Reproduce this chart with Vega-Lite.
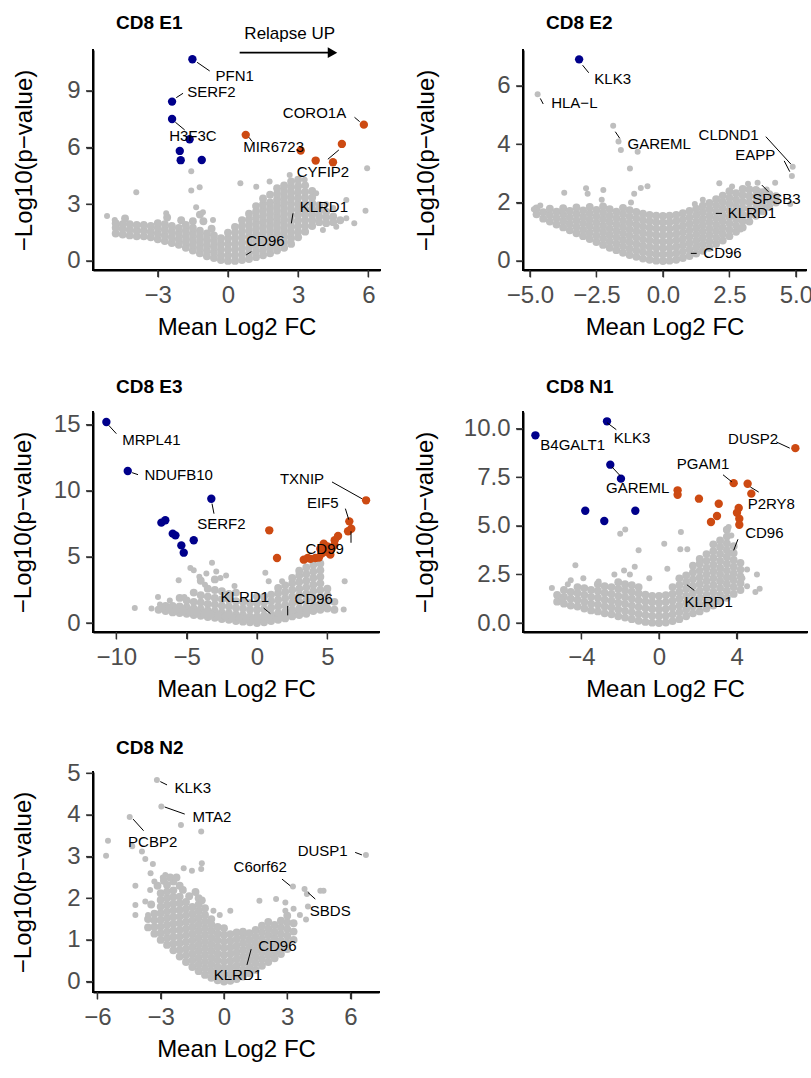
{
"$schema": "https://vega.github.io/schema/vega-lite/v6.json",
"background": "white",
"padding": {"left": 10, "top": 13, "right": 0, "bottom": 5},
"config": {
 "view": {"stroke": null},
 "font": "Liberation Sans",
 "axis": {"grid": false, "domain": true, "domainColor": "#000000", "domainWidth": 2, "ticks": true, "tickColor": "#333333", "tickWidth": 1.3, "tickSize": 7, "labelColor": "#4D4D4D", "labelFont": "Liberation Sans", "labelFontSize": 24, "labelPadding": 6, "labelFlush": false, "labelOverlap": false, "titleFont": "Liberation Sans", "titleFontSize": 24, "titleFontWeight": "normal", "titleColor": "#000000", "titlePadding": 8},
 "title": {"font": "Liberation Sans", "fontSize": 19, "fontWeight": "bold", "anchor": "start", "frame": "group", "dx": 23, "color": "#000000"}
},
"datasets": {
"e1g": [{"x":-4.8,"y":1.45},{"x":-4.8,"y":1.75},{"x":-4.8,"y":2.0},{"x":-4.5,"y":1.4},{"x":-4.5,"y":1.7},{"x":-4.5,"y":1.95},{"x":-4.2,"y":1.35},{"x":-4.2,"y":1.65},{"x":-4.2,"y":1.95},{"x":-3.9,"y":1.3},{"x":-3.9,"y":1.6},{"x":-3.9,"y":1.9},{"x":-3.6,"y":1.3},{"x":-3.6,"y":1.6},{"x":-3.6,"y":1.9},{"x":-3.3,"y":1.25},{"x":-3.3,"y":1.55},{"x":-3.3,"y":1.85},{"x":-3.0,"y":1.15},{"x":-3.0,"y":1.45},{"x":-3.0,"y":1.75},{"x":-3.0,"y":2.0},{"x":-2.7,"y":1.05},{"x":-2.7,"y":1.35},{"x":-2.7,"y":1.65},{"x":-2.7,"y":1.95},{"x":-2.4,"y":0.95},{"x":-2.4,"y":1.25},{"x":-2.4,"y":1.55},{"x":-2.4,"y":1.85},{"x":-2.1,"y":0.85},{"x":-2.1,"y":1.15},{"x":-2.1,"y":1.45},{"x":-2.1,"y":1.75},{"x":-1.8,"y":0.7},{"x":-1.8,"y":1.0},{"x":-1.8,"y":1.3},{"x":-1.8,"y":1.6},{"x":-1.8,"y":1.9},{"x":-1.5,"y":0.55},{"x":-1.5,"y":0.85},{"x":-1.5,"y":1.15},{"x":-1.5,"y":1.45},{"x":-1.5,"y":1.75},{"x":-1.2,"y":0.4},{"x":-1.2,"y":0.7},{"x":-1.2,"y":1.0},{"x":-1.2,"y":1.3},{"x":-1.2,"y":1.6},{"x":-0.9,"y":0.25},{"x":-0.9,"y":0.55},{"x":-0.9,"y":0.85},{"x":-0.9,"y":1.15},{"x":-0.9,"y":1.45},{"x":-0.6,"y":0.15},{"x":-0.6,"y":0.45},{"x":-0.6,"y":0.75},{"x":-0.6,"y":1.05},{"x":-0.6,"y":1.35},{"x":-0.3,"y":0.05},{"x":-0.3,"y":0.3},{"x":-0.3,"y":0.6},{"x":-0.3,"y":0.9},{"x":-0.3,"y":1.2},{"x":0,"y":0},{"x":0,"y":0.3},{"x":0,"y":0.6},{"x":0,"y":0.9},{"x":0,"y":1.2},{"x":0,"y":1.5},
{"x":-4.4,"y":2.25},{"x":-2.6,"y":2.3},{"x":-2.0,"y":2.15},{"x":-1.5,"y":2.1},{"x":-1.2,"y":2.45},{"x":-1.05,"y":2.1},{"x":-0.7,"y":1.7},
{"x":0.3,"y":0},{"x":0.3,"y":0.3},{"x":0.3,"y":0.6},{"x":0.3,"y":0.9},{"x":0.3,"y":1.2},{"x":0.3,"y":1.5},{"x":0.3,"y":1.8},
{"x":0.6,"y":0.05},{"x":0.6,"y":0.35},{"x":0.6,"y":0.65},{"x":0.6,"y":0.95},{"x":0.6,"y":1.25},{"x":0.6,"y":1.55},{"x":0.6,"y":1.85},{"x":0.6,"y":2.15},
{"x":0.9,"y":0.1},{"x":0.9,"y":0.4},{"x":0.9,"y":0.7},{"x":0.9,"y":1.0},{"x":0.9,"y":1.3},{"x":0.9,"y":1.6},{"x":0.9,"y":1.9},{"x":0.9,"y":2.2},{"x":0.9,"y":2.5},
{"x":1.2,"y":0.2},{"x":1.2,"y":0.5},{"x":1.2,"y":0.8},{"x":1.2,"y":1.1},{"x":1.2,"y":1.4},{"x":1.2,"y":1.7},{"x":1.2,"y":2.0},{"x":1.2,"y":2.3},{"x":1.2,"y":2.6},{"x":1.2,"y":2.9},
{"x":1.5,"y":0.3},{"x":1.5,"y":0.6},{"x":1.5,"y":0.9},{"x":1.5,"y":1.2},{"x":1.5,"y":1.5},{"x":1.5,"y":1.8},{"x":1.5,"y":2.1},{"x":1.5,"y":2.4},{"x":1.5,"y":2.7},{"x":1.5,"y":3.0},{"x":1.5,"y":3.3},
{"x":1.8,"y":0.4},{"x":1.8,"y":0.7},{"x":1.8,"y":1.0},{"x":1.8,"y":1.3},{"x":1.8,"y":1.6},{"x":1.8,"y":1.9},{"x":1.8,"y":2.2},{"x":1.8,"y":2.5},{"x":1.8,"y":2.8},{"x":1.8,"y":3.1},{"x":1.8,"y":3.5},
{"x":2.1,"y":0.55},{"x":2.1,"y":0.85},{"x":2.1,"y":1.15},{"x":2.1,"y":1.45},{"x":2.1,"y":1.75},{"x":2.1,"y":2.05},{"x":2.1,"y":2.35},{"x":2.1,"y":2.65},{"x":2.1,"y":2.95},{"x":2.1,"y":3.25},{"x":2.1,"y":3.55},{"x":2.1,"y":3.85},
{"x":2.4,"y":0.7},{"x":2.4,"y":1.0},{"x":2.4,"y":1.3},{"x":2.4,"y":1.6},{"x":2.4,"y":1.9},{"x":2.4,"y":2.2},{"x":2.4,"y":2.5},{"x":2.4,"y":2.8},{"x":2.4,"y":3.1},{"x":2.4,"y":3.4},{"x":2.4,"y":3.7},{"x":2.4,"y":4.0},
{"x":2.7,"y":0.9},{"x":2.7,"y":1.2},{"x":2.7,"y":1.5},{"x":2.7,"y":1.8},{"x":2.7,"y":2.1},{"x":2.7,"y":2.4},{"x":2.7,"y":2.7},{"x":2.7,"y":3.0},{"x":2.7,"y":3.3},{"x":2.7,"y":3.6},{"x":2.7,"y":3.9},{"x":2.7,"y":4.2},
{"x":3.0,"y":1.25},{"x":3.0,"y":1.55},{"x":3.0,"y":1.85},{"x":3.0,"y":2.15},{"x":3.0,"y":2.45},{"x":3.0,"y":2.75},{"x":3.0,"y":3.05},{"x":3.0,"y":3.35},{"x":3.0,"y":3.65},{"x":3.0,"y":3.95},{"x":3.0,"y":4.3},
{"x":3.3,"y":1.55},{"x":3.3,"y":1.85},{"x":3.3,"y":2.15},{"x":3.3,"y":2.45},{"x":3.3,"y":2.75},{"x":3.3,"y":3.05},{"x":3.3,"y":3.35},{"x":3.3,"y":3.65},{"x":3.3,"y":4.0},
{"x":3.6,"y":1.85},{"x":3.6,"y":2.15},{"x":3.6,"y":2.45},{"x":3.6,"y":2.75},{"x":3.6,"y":3.05},{"x":3.6,"y":3.35},{"x":3.6,"y":3.7},
{"x":3.9,"y":2.05},{"x":3.9,"y":2.35},{"x":3.9,"y":2.65},{"x":3.9,"y":2.95},{"x":4.2,"y":2.0},{"x":4.2,"y":2.3},{"x":4.2,"y":2.6},{"x":4.5,"y":2.05},{"x":4.5,"y":2.35},{"x":4.8,"y":2.15}],
"e1o": [{"x":-5.17,"y":2.38},{"x":-4.84,"y":2.17},{"x":-3.92,"y":3.63},{"x":-2.64,"y":2.52},{"x":-1.57,"y":4.75},{"x":-1.57,"y":3.72},{"x":-1.21,"y":3.9},{"x":-1.36,"y":2.84},{"x":-1.07,"y":2.58},{"x":-0.64,"y":2.17},{"x":0.53,"y":4.11},{"x":1.21,"y":3.93},{"x":1.78,"y":4.2},{"x":2.64,"y":4.55},{"x":3.28,"y":4.29},{"x":5.95,"y":4.9},{"x":5.88,"y":2.66},{"x":5.06,"y":2.26},{"x":5.06,"y":3.23},{"x":3.77,"y":3.58},{"x":4.06,"y":1.64},{"x":4.63,"y":1.81},{"x":4.2,"y":3.0},{"x":4.5,"y":2.8},{"x":5.4,"y":2.0}],
"e1h": [{"x":-1.52,"y":10.67,"g":"down"},{"x":-2.39,"y":8.43,"g":"down"},{"x":-2.39,"y":7.51,"g":"down"},{"x":-1.64,"y":6.44,"g":"down"},{"x":-2.06,"y":5.82,"g":"down"},{"x":-2.02,"y":5.33,"g":"down"},{"x":-1.12,"y":5.34,"g":"down"},{"x":0.76,"y":6.67,"g":"up"},{"x":3.11,"y":5.84,"g":"up"},{"x":3.75,"y":5.31,"g":"up"},{"x":4.49,"y":5.22,"g":"up"},{"x":4.87,"y":6.19,"g":"up"},{"x":5.81,"y":7.21,"g":"up"}],
"e1s": [{"x":-1.32,"y":10.51,"x2":-0.78,"y2":10.05},{"x":-2.21,"y":8.64,"x2":-1.92,"y2":8.87},{"x":-2.25,"y":7.34,"x2":-1.85,"y2":6.93},{"x":0.9,"y":6.54,"x2":1.04,"y2":6.31},{"x":5.41,"y":7.6,"x2":5.63,"y2":7.37},{"x":4.27,"y":5.38,"x2":4.74,"y2":5.87},{"x":2.71,"y":1.99,"x2":2.78,"y2":2.52},{"x":0.78,"y":0.32,"x2":1.0,"y2":0.49}],
"e1t": [{"x":0.29,"y":9.79,"t":"PFN1"},{"x":-0.71,"y":8.96,"t":"SERF2"},{"x":-1.5,"y":6.61,"t":"H3F3C"},{"x":1.95,"y":6.01,"t":"MIR6723"},{"x":3.7,"y":7.81,"t":"CORO1A"},{"x":4.06,"y":4.69,"t":"CYFIP2"},{"x":4.1,"y":2.87,"t":"KLRD1"},{"x":1.6,"y":1.07,"t":"CD96"}],
"e1a": [{"x":-5.77,"y":-0.48,"x2":6.5,"y2":-0.48},{"x":-5.77,"y":-0.48,"x2":-5.77,"y2":11.16}],
"e1k": [{"x":-3,"y":-0.48,"x2":-3,"y2":-0.85},{"x":0,"y":-0.48,"x2":0,"y2":-0.85},{"x":3,"y":-0.48,"x2":3,"y2":-0.85},{"x":6,"y":-0.48,"x2":6,"y2":-0.85},{"x":-5.77,"y":0,"x2":-6.07,"y2":0},{"x":-5.77,"y":3,"x2":-6.07,"y2":3},{"x":-5.77,"y":6,"x2":-6.07,"y2":6},{"x":-5.77,"y":9,"x2":-6.07,"y2":9}],
"e2g": [{"x":-4.75,"y":1.6},{"x":-4.75,"y":1.8},{"x":-4.5,"y":1.45},{"x":-4.5,"y":1.67},{"x":-4.25,"y":1.35},{"x":-4.25,"y":1.57},{"x":-4.25,"y":1.79},{"x":-4.0,"y":1.25},{"x":-4.0,"y":1.47},{"x":-4.0,"y":1.69},{"x":-3.75,"y":1.15},{"x":-3.75,"y":1.37},{"x":-3.75,"y":1.59},{"x":-3.75,"y":1.81},{"x":-3.5,"y":1.05},{"x":-3.5,"y":1.27},{"x":-3.5,"y":1.49},{"x":-3.5,"y":1.71},{"x":-3.25,"y":0.95},{"x":-3.25,"y":1.17},{"x":-3.25,"y":1.39},{"x":-3.25,"y":1.61},{"x":-3.25,"y":1.83},{"x":-3.0,"y":0.85},{"x":-3.0,"y":1.07},{"x":-3.0,"y":1.29},{"x":-3.0,"y":1.51},{"x":-3.0,"y":1.73},{"x":-2.75,"y":0.75},{"x":-2.75,"y":0.97},{"x":-2.75,"y":1.19},{"x":-2.75,"y":1.41},{"x":-2.75,"y":1.63},{"x":-2.75,"y":1.85},{"x":-2.5,"y":0.65},{"x":-2.5,"y":0.87},{"x":-2.5,"y":1.09},{"x":-2.5,"y":1.31},{"x":-2.5,"y":1.53},{"x":-2.5,"y":1.75},{"x":-2.25,"y":0.55},{"x":-2.25,"y":0.77},{"x":-2.25,"y":0.99},{"x":-2.25,"y":1.21},{"x":-2.25,"y":1.43},{"x":-2.25,"y":1.65},{"x":-2.25,"y":1.87},{"x":-2.0,"y":0.45},{"x":-2.0,"y":0.67},{"x":-2.0,"y":0.89},{"x":-2.0,"y":1.11},{"x":-2.0,"y":1.33},{"x":-2.0,"y":1.55},{"x":-2.0,"y":1.77},{"x":-1.75,"y":0.37},{"x":-1.75,"y":0.59},{"x":-1.75,"y":0.81},{"x":-1.75,"y":1.03},{"x":-1.75,"y":1.25},{"x":-1.75,"y":1.47},{"x":-1.75,"y":1.69},{"x":-1.5,"y":0.28},{"x":-1.5,"y":0.5},{"x":-1.5,"y":0.72},{"x":-1.5,"y":0.94},{"x":-1.5,"y":1.16},{"x":-1.5,"y":1.38},{"x":-1.5,"y":1.6},{"x":-1.5,"y":1.82},{"x":-1.25,"y":0.2},{"x":-1.25,"y":0.42},{"x":-1.25,"y":0.64},{"x":-1.25,"y":0.86},{"x":-1.25,"y":1.08},{"x":-1.25,"y":1.3},{"x":-1.25,"y":1.52},{"x":-1.25,"y":1.74},{"x":-1.0,"y":0.14},{"x":-1.0,"y":0.36},{"x":-1.0,"y":0.58},{"x":-1.0,"y":0.8},{"x":-1.0,"y":1.02},{"x":-1.0,"y":1.24},{"x":-1.0,"y":1.46},{"x":-1.0,"y":1.68},{"x":-0.75,"y":0.08},{"x":-0.75,"y":0.3},{"x":-0.75,"y":0.52},{"x":-0.75,"y":0.74},{"x":-0.75,"y":0.96},{"x":-0.75,"y":1.18},{"x":-0.75,"y":1.4},{"x":-0.75,"y":1.62},{"x":-0.5,"y":0.04},{"x":-0.5,"y":0.26},{"x":-0.5,"y":0.48},{"x":-0.5,"y":0.7},{"x":-0.5,"y":0.92},{"x":-0.5,"y":1.14},{"x":-0.5,"y":1.36},{"x":-0.5,"y":1.58},{"x":-0.25,"y":0.01},{"x":-0.25,"y":0.23},{"x":-0.25,"y":0.45},{"x":-0.25,"y":0.67},{"x":-0.25,"y":0.89},{"x":-0.25,"y":1.11},{"x":-0.25,"y":1.33},{"x":-0.25,"y":1.55},{"x":0,"y":0},{"x":0,"y":0.22},{"x":0,"y":0.44},{"x":0,"y":0.66},{"x":0,"y":0.88},{"x":0,"y":1.1},{"x":0,"y":1.32},{"x":0,"y":1.54},
{"x":0.25,"y":0.01},{"x":0.25,"y":0.23},{"x":0.25,"y":0.45},{"x":0.25,"y":0.67},{"x":0.25,"y":0.89},{"x":0.25,"y":1.11},{"x":0.25,"y":1.33},{"x":0.25,"y":1.55},{"x":0.5,"y":0.04},{"x":0.5,"y":0.26},{"x":0.5,"y":0.48},{"x":0.5,"y":0.7},{"x":0.5,"y":0.92},{"x":0.5,"y":1.14},{"x":0.5,"y":1.36},{"x":0.5,"y":1.58},{"x":0.75,"y":0.1},{"x":0.75,"y":0.32},{"x":0.75,"y":0.54},{"x":0.75,"y":0.76},{"x":0.75,"y":0.98},{"x":0.75,"y":1.2},{"x":0.75,"y":1.42},{"x":0.75,"y":1.64},{"x":1.0,"y":0.17},{"x":1.0,"y":0.39},{"x":1.0,"y":0.61},{"x":1.0,"y":0.83},{"x":1.0,"y":1.05},{"x":1.0,"y":1.27},{"x":1.0,"y":1.49},{"x":1.0,"y":1.71},{"x":1.25,"y":0.25},{"x":1.25,"y":0.47},{"x":1.25,"y":0.69},{"x":1.25,"y":0.91},{"x":1.25,"y":1.13},{"x":1.25,"y":1.35},{"x":1.25,"y":1.57},{"x":1.25,"y":1.79},{"x":1.5,"y":0.35},{"x":1.5,"y":0.57},{"x":1.5,"y":0.79},{"x":1.5,"y":1.01},{"x":1.5,"y":1.23},{"x":1.5,"y":1.45},{"x":1.5,"y":1.67},{"x":1.5,"y":1.89},{"x":1.75,"y":0.45},{"x":1.75,"y":0.67},{"x":1.75,"y":0.89},{"x":1.75,"y":1.11},{"x":1.75,"y":1.33},{"x":1.75,"y":1.55},{"x":1.75,"y":1.77},{"x":1.75,"y":1.99},{"x":2.0,"y":0.58},{"x":2.0,"y":0.8},{"x":2.0,"y":1.02},{"x":2.0,"y":1.24},{"x":2.0,"y":1.46},{"x":2.0,"y":1.68},{"x":2.0,"y":1.9},{"x":2.0,"y":2.12},{"x":2.25,"y":0.7},{"x":2.25,"y":0.92},{"x":2.25,"y":1.14},{"x":2.25,"y":1.36},{"x":2.25,"y":1.58},{"x":2.25,"y":1.8},{"x":2.25,"y":2.02},{"x":2.25,"y":2.24},{"x":2.5,"y":0.85},{"x":2.5,"y":1.07},{"x":2.5,"y":1.29},{"x":2.5,"y":1.51},{"x":2.5,"y":1.73},{"x":2.5,"y":1.95},{"x":2.5,"y":2.17},{"x":2.5,"y":2.39},{"x":2.75,"y":1.0},{"x":2.75,"y":1.22},{"x":2.75,"y":1.44},{"x":2.75,"y":1.66},{"x":2.75,"y":1.88},{"x":2.75,"y":2.1},{"x":2.75,"y":2.32},{"x":3.0,"y":1.15},{"x":3.0,"y":1.37},{"x":3.0,"y":1.59},{"x":3.0,"y":1.81},{"x":3.0,"y":2.03},{"x":3.0,"y":2.25},{"x":3.0,"y":2.47},{"x":3.25,"y":1.35},{"x":3.25,"y":1.57},{"x":3.25,"y":1.79},{"x":3.25,"y":2.01},{"x":3.25,"y":2.23},{"x":3.25,"y":2.45},{"x":3.5,"y":1.55},{"x":3.5,"y":1.77},{"x":3.5,"y":1.99},{"x":3.5,"y":2.21},{"x":3.5,"y":2.43},{"x":3.75,"y":1.7},{"x":3.75,"y":1.92},{"x":3.75,"y":2.14},{"x":3.75,"y":2.36},{"x":4.0,"y":1.85},{"x":4.0,"y":2.07},{"x":4.0,"y":2.29},{"x":4.25,"y":2.0},{"x":4.25,"y":2.22}],
"e2o": [{"x":-4.71,"y":5.71},{"x":-1.87,"y":4.63},{"x":-1.67,"y":4.09},{"x":-1.58,"y":3.8},{"x":-0.95,"y":3.74},{"x":-1.24,"y":3.17},{"x":4.88,"y":3.23},{"x":4.85,"y":2.91},{"x":3.56,"y":2.68},{"x":4.22,"y":2.68},{"x":4.79,"y":1.95},{"x":2.12,"y":2.66},{"x":3.2,"y":2.65},{"x":2.93,"y":1.08},{"x":-3.71,"y":2.34},{"x":-2.89,"y":2.49},{"x":-2.24,"y":2.43},{"x":-2.83,"y":2.3},{"x":-1.08,"y":2.3},{"x":-0.83,"y":2.5},{"x":-0.58,"y":2.56},{"x":-4.85,"y":1.77},{"x":-4.61,"y":1.9},{"x":-3.77,"y":1.69},{"x":-2.3,"y":2.1},{"x":-1.2,"y":2.0},{"x":3.6,"y":2.4},{"x":3.9,"y":2.45},{"x":1.5,"y":2.1},{"x":1.2,"y":1.95},{"x":2.6,"y":2.55}],
"e2h": [{"x":-3.15,"y":6.91,"g":"down"}],
"e2s": [{"x":-3.02,"y":6.71,"x2":-2.79,"y2":6.45},{"x":-4.61,"y":5.57,"x2":-4.5,"y2":5.38},{"x":-1.79,"y":4.43,"x2":-1.62,"y2":4.2},{"x":3.87,"y":4.26,"x2":4.81,"y2":3.32},{"x":4.56,"y":3.43,"x2":4.77,"y2":3.06},{"x":3.72,"y":2.6,"x2":3.97,"y2":2.37},{"x":1.99,"y":1.63,"x2":2.22,"y2":1.63},{"x":1.05,"y":0.26,"x2":1.27,"y2":0.26}],
"e2t": [{"x":-1.89,"y":6.22,"t":"KLK3"},{"x":-3.33,"y":5.4,"t":"HLA−L"},{"x":-0.14,"y":4.01,"t":"GAREML"},{"x":2.47,"y":4.32,"t":"CLDND1"},{"x":3.47,"y":3.63,"t":"EAPP"},{"x":4.27,"y":2.11,"t":"SPSB3"},{"x":3.35,"y":1.63,"t":"KLRD1"},{"x":2.24,"y":0.26,"t":"CD96"}],
"e2a": [{"x":-5.26,"y":-0.31,"x2":5.38,"y2":-0.31},{"x":-5.26,"y":-0.31,"x2":-5.26,"y2":7.23}],
"e2k": [{"x":-5,"y":-0.31,"x2":-5,"y2":-0.55},{"x":-2.5,"y":-0.31,"x2":-2.5,"y2":-0.55},{"x":0,"y":-0.31,"x2":0,"y2":-0.55},{"x":2.5,"y":-0.31,"x2":2.5,"y2":-0.55},{"x":5,"y":-0.31,"x2":5,"y2":-0.55},{"x":-5.26,"y":0,"x2":-5.52,"y2":0},{"x":-5.26,"y":2,"x2":-5.52,"y2":2},{"x":-5.26,"y":4,"x2":-5.52,"y2":4},{"x":-5.26,"y":6,"x2":-5.52,"y2":6}],
"e3g": [{"x":-7,"y":1.0},{"x":-6.5,"y":0.9},{"x":-6.5,"y":1.3},{"x":-6,"y":0.8},{"x":-6,"y":1.3},{"x":-5.5,"y":0.75},{"x":-5.5,"y":1.25},{"x":-5.5,"y":1.9},{"x":-5,"y":0.7},{"x":-5,"y":1.2},{"x":-5,"y":1.7},{"x":-4.5,"y":0.6},{"x":-4.5,"y":1.1},{"x":-4.5,"y":1.6},{"x":-4.5,"y":2.3},{"x":-4,"y":0.55},{"x":-4,"y":1.05},{"x":-4,"y":1.55},{"x":-4,"y":2.1},{"x":-4,"y":3.2},{"x":-3.5,"y":0.45},{"x":-3.5,"y":0.95},{"x":-3.5,"y":1.45},{"x":-3.5,"y":2.0},{"x":-3.5,"y":2.6},{"x":-3,"y":0.4},{"x":-3,"y":0.9},{"x":-3,"y":1.4},{"x":-3,"y":1.9},{"x":-3,"y":2.5},{"x":-3,"y":3.3},{"x":-2.5,"y":0.3},{"x":-2.5,"y":0.8},{"x":-2.5,"y":1.3},{"x":-2.5,"y":1.8},{"x":-2.5,"y":2.4},{"x":-2,"y":0.25},{"x":-2,"y":0.75},{"x":-2,"y":1.25},{"x":-2,"y":1.75},{"x":-2,"y":2.2},{"x":-1.5,"y":0.15},{"x":-1.5,"y":0.65},{"x":-1.5,"y":1.15},{"x":-1.5,"y":1.65},{"x":-1.5,"y":2.3},{"x":-1,"y":0.1},{"x":-1,"y":0.6},{"x":-1,"y":1.1},{"x":-1,"y":1.6},{"x":-0.5,"y":0.05},{"x":-0.5,"y":0.5},{"x":-0.5,"y":1.0},{"x":-0.5,"y":1.5},{"x":0,"y":0},{"x":0,"y":0.5},{"x":0,"y":1.0},{"x":0,"y":1.5},{"x":0,"y":2.0},
{"x":-6.75,"y":1.15},{"x":-6.25,"y":1.05},{"x":-5.75,"y":1.0},{"x":-5.25,"y":0.95},{"x":-4.75,"y":0.85},{"x":-4.25,"y":0.8},{"x":-3.75,"y":0.7},{"x":-3.25,"y":0.65},{"x":-2.75,"y":0.55},{"x":-2.25,"y":0.5},{"x":-1.75,"y":0.4},{"x":-1.25,"y":0.35},{"x":-0.75,"y":0.3},{"x":-0.25,"y":0.25},{"x":0.25,"y":0.3},{"x":0.75,"y":0.4},{"x":1.25,"y":0.5},{"x":1.75,"y":0.55},{"x":2.25,"y":0.7},{"x":2.75,"y":0.8},{"x":3.25,"y":0.9},{"x":3.75,"y":1.0},{"x":4.25,"y":1.2},{"x":4.75,"y":1.3},
{"x":0.5,"y":0.05},{"x":0.5,"y":0.55},{"x":0.5,"y":1.05},{"x":0.5,"y":1.55},{"x":0.5,"y":2.0},{"x":1,"y":0.15},{"x":1,"y":0.65},{"x":1,"y":1.15},{"x":1,"y":1.65},{"x":1,"y":2.15},{"x":1.5,"y":0.25},{"x":1.5,"y":0.75},{"x":1.5,"y":1.25},{"x":1.5,"y":1.75},{"x":1.5,"y":2.25},{"x":1.5,"y":2.65},{"x":2,"y":0.35},{"x":2,"y":0.85},{"x":2,"y":1.35},{"x":2,"y":1.85},{"x":2,"y":2.35},{"x":2,"y":2.85},{"x":2.5,"y":0.5},{"x":2.5,"y":1.0},{"x":2.5,"y":1.5},{"x":2.5,"y":2.0},{"x":2.5,"y":2.5},{"x":2.5,"y":3.0},{"x":2.5,"y":3.4},{"x":3,"y":0.6},{"x":3,"y":1.1},{"x":3,"y":1.6},{"x":3,"y":2.1},{"x":3,"y":2.6},{"x":3,"y":3.1},{"x":3,"y":3.6},{"x":3,"y":3.95},{"x":3.5,"y":0.7},{"x":3.5,"y":1.2},{"x":3.5,"y":1.7},{"x":3.5,"y":2.2},{"x":3.5,"y":2.7},{"x":3.5,"y":3.2},{"x":3.5,"y":3.7},{"x":3.5,"y":4.2},{"x":4,"y":0.9},{"x":4,"y":1.4},{"x":4,"y":1.9},{"x":4,"y":2.4},{"x":4,"y":2.9},{"x":4,"y":3.4},{"x":4,"y":3.9},{"x":4,"y":4.4},{"x":4.5,"y":1.0},{"x":4.5,"y":1.5},{"x":4.5,"y":2.0},{"x":4.5,"y":2.5},{"x":4.5,"y":3.0},{"x":4.5,"y":3.5},{"x":4.5,"y":4.0},{"x":4.5,"y":4.5},{"x":5,"y":1.1},{"x":5,"y":1.6},{"x":5,"y":2.1},{"x":5,"y":2.6},{"x":5.5,"y":1.0},{"x":5.5,"y":1.6}],
"e3o": [{"x":-8.69,"y":1.13},{"x":-7.04,"y":1.97},{"x":-5.57,"y":3.23},{"x":-5.17,"y":1.97},{"x":-4.74,"y":4.16},{"x":-4.5,"y":4.0},{"x":-3.2,"y":4.56},{"x":-4.1,"y":3.5},{"x":-3.6,"y":3.75},{"x":-2.6,"y":3.4},{"x":-2.2,"y":3.6},{"x":0.59,"y":3.81},{"x":0.83,"y":3.15},{"x":1.78,"y":3.15},{"x":6.23,"y":3.15},{"x":6.16,"y":1.03},{"x":5.52,"y":1.03},{"x":-7.5,"y":1.1},{"x":-6.9,"y":1.4},{"x":-2.9,"y":3.9},{"x":-1.6,"y":2.8},{"x":-3.7,"y":2.9},{"x":-6.2,"y":1.7}],
"e3h": [{"x":-10.71,"y":15.2,"g":"down"},{"x":-9.19,"y":11.5,"g":"down"},{"x":-3.25,"y":9.4,"g":"down"},{"x":-6.8,"y":7.59,"g":"down"},{"x":-6.52,"y":7.77,"g":"down"},{"x":-5.99,"y":6.76,"g":"down"},{"x":-5.8,"y":6.63,"g":"down"},{"x":-5.38,"y":5.87,"g":"down"},{"x":-5.21,"y":5.32,"g":"down"},{"x":-4.5,"y":6.26,"g":"down"},{"x":7.75,"y":9.28,"g":"up"},{"x":6.56,"y":7.69,"g":"up"},{"x":6.7,"y":7.13,"g":"up"},{"x":6.47,"y":6.94,"g":"up"},{"x":0.87,"y":7.01,"g":"up"},{"x":1.42,"y":4.92,"g":"up"},{"x":3.32,"y":4.79,"g":"up"},{"x":3.6,"y":4.92,"g":"up"},{"x":4.15,"y":4.92,"g":"up"},{"x":4.74,"y":6.0,"g":"up"},{"x":5.52,"y":6.26,"g":"up"},{"x":5.76,"y":6.58,"g":"up"},{"x":5.21,"y":5.17,"g":"up"},{"x":4.5,"y":5.62,"g":"up"},{"x":4.98,"y":5.37,"g":"up"},{"x":3.8,"y":4.85,"g":"up"},{"x":4.4,"y":4.95,"g":"up"},{"x":4.6,"y":5.25,"g":"up"},{"x":5.0,"y":5.8,"g":"up"},{"x":5.3,"y":5.6,"g":"up"},{"x":5.5,"y":5.9,"g":"up"}],
"e3s": [{"x":-10.54,"y":14.95,"x2":-10.0,"y2":14.32},{"x":-8.88,"y":11.37,"x2":-8.46,"y2":11.22},{"x":-3.2,"y":9.03,"x2":-3.06,"y2":8.27},{"x":5.33,"y":10.67,"x2":7.46,"y2":9.4},{"x":6.28,"y":8.65,"x2":6.52,"y2":7.82},{"x":6.68,"y":6.94,"x2":6.68,"y2":6.07},{"x":0.47,"y":1.13,"x2":0.95,"y2":0.71},{"x":2.18,"y":1.29,"x2":2.18,"y2":0.58}],
"e3t": [{"x":-7.51,"y":13.82,"t":"MRPL41"},{"x":-5.57,"y":11.22,"t":"NDUFB10"},{"x":-2.53,"y":7.51,"t":"SERF2"},{"x":3.2,"y":10.92,"t":"TXNIP"},{"x":4.67,"y":9.1,"t":"EIF5"},{"x":4.81,"y":5.57,"t":"CD99"},{"x":-0.87,"y":1.97,"t":"KLRD1"},{"x":4.03,"y":1.84,"t":"CD96"}],
"e3a": [{"x":-11.66,"y":-0.68,"x2":8.67,"y2":-0.68},{"x":-11.66,"y":-0.68,"x2":-11.66,"y2":15.96}],
"e3k": [{"x":-10,"y":-0.68,"x2":-10,"y2":-1.21},{"x":-5,"y":-0.68,"x2":-5,"y2":-1.21},{"x":0,"y":-0.68,"x2":0,"y2":-1.21},{"x":5,"y":-0.68,"x2":5,"y2":-1.21},{"x":-11.66,"y":0,"x2":-12.16,"y2":0},{"x":-11.66,"y":5,"x2":-12.16,"y2":5},{"x":-11.66,"y":10,"x2":-12.16,"y2":10},{"x":-11.66,"y":15,"x2":-12.16,"y2":15}],
"n1g": [{"x":-5.25,"y":1.1},{"x":-5.25,"y":1.45},{"x":-4.9,"y":1.0},{"x":-4.9,"y":1.35},{"x":-4.9,"y":1.7},{"x":-4.55,"y":0.9},{"x":-4.55,"y":1.25},{"x":-4.55,"y":1.6},{"x":-4.2,"y":0.85},{"x":-4.2,"y":1.2},{"x":-4.2,"y":1.55},{"x":-4.2,"y":1.85},{"x":-3.85,"y":0.75},{"x":-3.85,"y":1.1},{"x":-3.85,"y":1.45},{"x":-3.85,"y":1.8},{"x":-3.5,"y":0.65},{"x":-3.5,"y":1.0},{"x":-3.5,"y":1.35},{"x":-3.5,"y":1.7},{"x":-3.15,"y":0.6},{"x":-3.15,"y":0.95},{"x":-3.15,"y":1.3},{"x":-3.15,"y":1.65},{"x":-3.15,"y":2.0},{"x":-2.8,"y":0.5},{"x":-2.8,"y":0.85},{"x":-2.8,"y":1.2},{"x":-2.8,"y":1.55},{"x":-2.8,"y":1.9},{"x":-2.45,"y":0.45},{"x":-2.45,"y":0.8},{"x":-2.45,"y":1.15},{"x":-2.45,"y":1.5},{"x":-2.45,"y":1.85},{"x":-2.1,"y":0.35},{"x":-2.1,"y":0.7},{"x":-2.1,"y":1.05},{"x":-2.1,"y":1.4},{"x":-2.1,"y":1.75},{"x":-2.1,"y":2.1},{"x":-1.75,"y":0.28},{"x":-1.75,"y":0.63},{"x":-1.75,"y":0.98},{"x":-1.75,"y":1.33},{"x":-1.75,"y":1.68},{"x":-1.75,"y":2.0},{"x":-1.4,"y":0.2},{"x":-1.4,"y":0.55},{"x":-1.4,"y":0.9},{"x":-1.4,"y":1.25},{"x":-1.4,"y":1.6},{"x":-1.4,"y":1.95},{"x":-1.05,"y":0.12},{"x":-1.05,"y":0.47},{"x":-1.05,"y":0.82},{"x":-1.05,"y":1.17},{"x":-1.05,"y":1.52},{"x":-1.05,"y":1.85},{"x":-0.7,"y":0.06},{"x":-0.7,"y":0.41},{"x":-0.7,"y":0.76},{"x":-0.7,"y":1.11},{"x":-0.7,"y":1.46},{"x":-0.35,"y":0.02},{"x":-0.35,"y":0.37},{"x":-0.35,"y":0.72},{"x":-0.35,"y":1.07},{"x":-0.35,"y":1.4},{"x":0,"y":0},{"x":0,"y":0.35},{"x":0,"y":0.7},{"x":0,"y":1.05},{"x":0,"y":1.4},
{"x":0.35,"y":0.03},{"x":0.35,"y":0.38},{"x":0.35,"y":0.73},{"x":0.35,"y":1.08},{"x":0.35,"y":1.43},{"x":0.7,"y":0.1},{"x":0.7,"y":0.45},{"x":0.7,"y":0.8},{"x":0.7,"y":1.15},{"x":0.7,"y":1.5},{"x":0.7,"y":1.85},{"x":1.05,"y":0.2},{"x":1.05,"y":0.55},{"x":1.05,"y":0.9},{"x":1.05,"y":1.25},{"x":1.05,"y":1.6},{"x":1.05,"y":1.95},{"x":1.05,"y":2.3},{"x":1.4,"y":0.35},{"x":1.4,"y":0.7},{"x":1.4,"y":1.05},{"x":1.4,"y":1.4},{"x":1.4,"y":1.75},{"x":1.4,"y":2.1},{"x":1.4,"y":2.45},{"x":1.75,"y":0.5},{"x":1.75,"y":0.85},{"x":1.75,"y":1.2},{"x":1.75,"y":1.55},{"x":1.75,"y":1.9},{"x":1.75,"y":2.25},{"x":1.75,"y":2.6},{"x":1.75,"y":2.95},{"x":2.1,"y":0.6},{"x":2.1,"y":0.95},{"x":2.1,"y":1.3},{"x":2.1,"y":1.65},{"x":2.1,"y":2.0},{"x":2.1,"y":2.35},{"x":2.1,"y":2.7},{"x":2.1,"y":3.05},{"x":2.1,"y":3.3},{"x":2.45,"y":0.75},{"x":2.45,"y":1.1},{"x":2.45,"y":1.45},{"x":2.45,"y":1.8},{"x":2.45,"y":2.15},{"x":2.45,"y":2.5},{"x":2.45,"y":2.85},{"x":2.45,"y":3.2},{"x":2.45,"y":3.55},{"x":2.8,"y":0.9},{"x":2.8,"y":1.25},{"x":2.8,"y":1.6},{"x":2.8,"y":1.95},{"x":2.8,"y":2.3},{"x":2.8,"y":2.65},{"x":2.8,"y":3.0},{"x":2.8,"y":3.35},{"x":2.8,"y":3.7},{"x":2.8,"y":4.05},{"x":3.15,"y":1.1},{"x":3.15,"y":1.45},{"x":3.15,"y":1.8},{"x":3.15,"y":2.15},{"x":3.15,"y":2.5},{"x":3.15,"y":2.85},{"x":3.15,"y":3.2},{"x":3.15,"y":3.55},{"x":3.15,"y":3.9},{"x":3.15,"y":4.25},{"x":3.5,"y":1.3},{"x":3.5,"y":1.65},{"x":3.5,"y":2.0},{"x":3.5,"y":2.35},{"x":3.5,"y":2.7},{"x":3.5,"y":3.05},{"x":3.5,"y":3.4},{"x":3.5,"y":3.75},{"x":3.5,"y":4.1},{"x":3.5,"y":4.45},{"x":3.5,"y":4.8},{"x":3.85,"y":1.5},{"x":3.85,"y":1.85},{"x":3.85,"y":2.2},{"x":3.85,"y":2.55},{"x":3.85,"y":2.9},{"x":3.85,"y":3.25},{"x":3.85,"y":3.6},{"x":3.85,"y":3.95},{"x":4.2,"y":1.7},{"x":4.2,"y":2.05},{"x":4.2,"y":2.4},{"x":4.2,"y":2.75},{"x":4.2,"y":3.1}],
"n1o": [{"x":-1.74,"y":4.82},{"x":-2.0,"y":4.6},{"x":1.13,"y":4.68},{"x":0.27,"y":4.08},{"x":-1.05,"y":3.74},{"x":1.1,"y":3.8},{"x":1.46,"y":3.8},{"x":3.59,"y":4.94},{"x":3.46,"y":4.8},{"x":3.73,"y":4.5},{"x":-4.31,"y":2.97},{"x":-5.52,"y":1.8},{"x":-5.0,"y":1.25},{"x":-4.7,"y":2.0},{"x":-3.11,"y":2.14},{"x":-1.8,"y":2.7},{"x":-1.25,"y":2.9},{"x":0.43,"y":2.8},{"x":4.54,"y":2.76},{"x":5.05,"y":2.5},{"x":5.19,"y":1.77},{"x":4.97,"y":1.6},{"x":4.54,"y":1.9},{"x":3.16,"y":2.76},{"x":3.76,"y":2.35},{"x":-4.55,"y":2.2},{"x":-3.9,"y":2.3},{"x":-2.3,"y":2.5},{"x":-1.5,"y":2.5},{"x":-0.5,"y":2.3},{"x":4.3,"y":2.3},{"x":3.75,"y":3.6}],
"n1h": [{"x":-6.37,"y":9.66,"g":"down"},{"x":-2.68,"y":10.38,"g":"down"},{"x":-2.51,"y":8.15,"g":"down"},{"x":-1.96,"y":7.43,"g":"down"},{"x":-3.8,"y":5.78,"g":"down"},{"x":-2.82,"y":5.25,"g":"down"},{"x":-1.22,"y":5.78,"g":"down"},{"x":7.03,"y":9.0,"g":"up"},{"x":3.85,"y":7.2,"g":"up"},{"x":4.57,"y":7.17,"g":"up"},{"x":4.76,"y":6.66,"g":"up"},{"x":0.96,"y":6.83,"g":"up"},{"x":0.96,"y":6.6,"g":"up"},{"x":2.06,"y":6.4,"g":"up"},{"x":3.08,"y":6.14,"g":"up"},{"x":4.11,"y":5.92,"g":"up"},{"x":4.02,"y":5.68,"g":"up"},{"x":4.14,"y":5.37,"g":"up"},{"x":4.14,"y":5.06,"g":"up"},{"x":2.99,"y":5.51,"g":"up"},{"x":2.68,"y":5.2,"g":"up"}],
"n1s": [{"x":-2.68,"y":10.31,"x2":-2.2,"y2":9.95},{"x":-2.42,"y":8.03,"x2":-1.99,"y2":7.57},{"x":6.05,"y":9.32,"x2":6.74,"y2":9.0},{"x":3.3,"y":7.63,"x2":3.76,"y2":7.26},{"x":4.71,"y":7.0,"x2":5.14,"y2":6.74},{"x":4.07,"y":4.31,"x2":3.85,"y2":3.74},{"x":1.44,"y":1.97,"x2":1.82,"y2":1.68}],
"n1t": [{"x":-4.45,"y":9.14,"t":"B4GALT1"},{"x":-1.39,"y":9.52,"t":"KLK3"},{"x":-1.1,"y":6.95,"t":"GAREML"},{"x":4.85,"y":9.45,"t":"DUSP2"},{"x":2.27,"y":8.2,"t":"PGAM1"},{"x":5.79,"y":6.11,"t":"P2RY8"},{"x":5.43,"y":4.65,"t":"CD96"},{"x":2.56,"y":1.08,"t":"KLRD1"}],
"n1a": [{"x":-7.01,"y":-0.46,"x2":7.63,"y2":-0.46},{"x":-7.01,"y":-0.46,"x2":-7.01,"y2":10.86}],
"n1k": [{"x":-4,"y":-0.46,"x2":-4,"y2":-0.82},{"x":0,"y":-0.46,"x2":0,"y2":-0.82},{"x":4,"y":-0.46,"x2":4,"y2":-0.82},{"x":-7.01,"y":0,"x2":-7.37,"y2":0},{"x":-7.01,"y":2.5,"x2":-7.37,"y2":2.5},{"x":-7.01,"y":5,"x2":-7.37,"y2":5},{"x":-7.01,"y":7.5,"x2":-7.37,"y2":7.5},{"x":-7.01,"y":10,"x2":-7.37,"y2":10}],
"n2g": [{"x":-3.3,"y":1.15},{"x":-3.3,"y":1.31},{"x":-3.3,"y":1.47},{"x":-3.3,"y":1.63},{"x":-3.0,"y":1.0},{"x":-3.0,"y":1.16},{"x":-3.0,"y":1.32},{"x":-3.0,"y":1.48},{"x":-3.0,"y":1.64},{"x":-3.0,"y":1.8},{"x":-3.0,"y":1.96},{"x":-3.0,"y":2.12},{"x":-2.7,"y":0.88},{"x":-2.7,"y":1.04},{"x":-2.7,"y":1.2},{"x":-2.7,"y":1.36},{"x":-2.7,"y":1.52},{"x":-2.7,"y":1.68},{"x":-2.7,"y":1.84},{"x":-2.7,"y":2.0},{"x":-2.7,"y":2.16},{"x":-2.7,"y":2.32},{"x":-2.4,"y":0.75},{"x":-2.4,"y":0.91},{"x":-2.4,"y":1.07},{"x":-2.4,"y":1.23},{"x":-2.4,"y":1.39},{"x":-2.4,"y":1.55},{"x":-2.4,"y":1.71},{"x":-2.4,"y":1.87},{"x":-2.4,"y":2.03},{"x":-2.4,"y":2.19},{"x":-2.4,"y":2.4},{"x":-2.1,"y":0.6},{"x":-2.1,"y":0.76},{"x":-2.1,"y":0.92},{"x":-2.1,"y":1.08},{"x":-2.1,"y":1.24},{"x":-2.1,"y":1.4},{"x":-2.1,"y":1.56},{"x":-2.1,"y":1.72},{"x":-2.1,"y":1.88},{"x":-2.1,"y":2.04},{"x":-2.1,"y":2.3},{"x":-1.8,"y":0.47},{"x":-1.8,"y":0.63},{"x":-1.8,"y":0.79},{"x":-1.8,"y":0.95},{"x":-1.8,"y":1.11},{"x":-1.8,"y":1.27},{"x":-1.8,"y":1.43},{"x":-1.8,"y":1.59},{"x":-1.8,"y":1.75},{"x":-1.8,"y":1.91},{"x":-1.5,"y":0.35},{"x":-1.5,"y":0.51},{"x":-1.5,"y":0.67},{"x":-1.5,"y":0.83},{"x":-1.5,"y":0.99},{"x":-1.5,"y":1.15},{"x":-1.5,"y":1.31},{"x":-1.5,"y":1.47},{"x":-1.5,"y":1.63},{"x":-1.5,"y":1.79},{"x":-1.2,"y":0.25},{"x":-1.2,"y":0.41},{"x":-1.2,"y":0.57},{"x":-1.2,"y":0.73},{"x":-1.2,"y":0.89},{"x":-1.2,"y":1.05},{"x":-1.2,"y":1.21},{"x":-1.2,"y":1.37},{"x":-1.2,"y":1.53},{"x":-1.2,"y":1.69},{"x":-1.2,"y":1.85},{"x":-1.2,"y":2.0},{"x":-0.9,"y":0.16},{"x":-0.9,"y":0.32},{"x":-0.9,"y":0.48},{"x":-0.9,"y":0.64},{"x":-0.9,"y":0.8},{"x":-0.9,"y":0.96},{"x":-0.9,"y":1.12},{"x":-0.9,"y":1.28},{"x":-0.9,"y":1.44},{"x":-0.9,"y":1.6},{"x":-0.9,"y":1.76},{"x":-0.6,"y":0.09},{"x":-0.6,"y":0.25},{"x":-0.6,"y":0.41},{"x":-0.6,"y":0.57},{"x":-0.6,"y":0.73},{"x":-0.6,"y":0.89},{"x":-0.6,"y":1.05},{"x":-0.6,"y":1.21},{"x":-0.6,"y":1.37},{"x":-0.6,"y":1.5},{"x":-0.3,"y":0.03},{"x":-0.3,"y":0.19},{"x":-0.3,"y":0.35},{"x":-0.3,"y":0.51},{"x":-0.3,"y":0.67},{"x":-0.3,"y":0.83},{"x":-0.3,"y":0.99},{"x":-0.3,"y":1.15},{"x":-0.3,"y":1.31},{"x":0,"y":0},{"x":0,"y":0.16},{"x":0,"y":0.32},{"x":0,"y":0.48},{"x":0,"y":0.64},{"x":0,"y":0.8},{"x":0,"y":0.96},{"x":0,"y":1.12},{"x":0,"y":1.28},
{"x":-3.6,"y":1.3},{"x":-3.6,"y":1.5},{"x":-3.45,"y":1.85},{"x":-3.15,"y":2.3},{"x":-2.85,"y":2.42},{"x":-2.55,"y":2.5},{"x":-2.25,"y":2.5},{"x":-1.95,"y":2.2},{"x":-1.65,"y":2.05},{"x":-1.35,"y":2.15},{"x":-1.05,"y":1.95},
{"x":0.3,"y":0.02},{"x":0.3,"y":0.18},{"x":0.3,"y":0.34},{"x":0.3,"y":0.5},{"x":0.3,"y":0.66},{"x":0.3,"y":0.82},{"x":0.3,"y":0.98},{"x":0.3,"y":1.14},{"x":0.6,"y":0.06},{"x":0.6,"y":0.22},{"x":0.6,"y":0.38},{"x":0.6,"y":0.54},{"x":0.6,"y":0.7},{"x":0.6,"y":0.86},{"x":0.6,"y":1.02},{"x":0.6,"y":1.18},{"x":0.9,"y":0.12},{"x":0.9,"y":0.28},{"x":0.9,"y":0.44},{"x":0.9,"y":0.6},{"x":0.9,"y":0.76},{"x":0.9,"y":0.92},{"x":0.9,"y":1.08},{"x":0.9,"y":1.2},{"x":1.2,"y":0.2},{"x":1.2,"y":0.36},{"x":1.2,"y":0.52},{"x":1.2,"y":0.68},{"x":1.2,"y":0.84},{"x":1.2,"y":1.0},{"x":1.2,"y":1.16},{"x":1.5,"y":0.28},{"x":1.5,"y":0.44},{"x":1.5,"y":0.6},{"x":1.5,"y":0.76},{"x":1.5,"y":0.92},{"x":1.5,"y":1.08},{"x":1.5,"y":1.24},{"x":1.8,"y":0.38},{"x":1.8,"y":0.54},{"x":1.8,"y":0.7},{"x":1.8,"y":0.86},{"x":1.8,"y":1.02},{"x":1.8,"y":1.18},{"x":1.8,"y":1.34},{"x":2.1,"y":0.47},{"x":2.1,"y":0.63},{"x":2.1,"y":0.79},{"x":2.1,"y":0.95},{"x":2.1,"y":1.11},{"x":2.1,"y":1.27},{"x":2.1,"y":1.43},{"x":2.4,"y":0.56},{"x":2.4,"y":0.72},{"x":2.4,"y":0.88},{"x":2.4,"y":1.04},{"x":2.4,"y":1.2},{"x":2.4,"y":1.36},{"x":2.7,"y":0.66},{"x":2.7,"y":0.82},{"x":2.7,"y":0.98},{"x":2.7,"y":1.14},{"x":2.7,"y":1.3},{"x":2.7,"y":1.46},{"x":3.0,"y":0.78},{"x":3.0,"y":0.94},{"x":3.0,"y":1.1},{"x":3.0,"y":1.26},{"x":3.0,"y":1.42},{"x":3.0,"y":1.58},{"x":3.3,"y":1.0},{"x":3.3,"y":1.2},{"x":3.3,"y":1.4}],
"n2o": [{"x":-5.5,"y":3.38},{"x":-5.59,"y":3.02},{"x":-4.47,"y":3.95},{"x":-3.18,"y":4.84},{"x":-2.97,"y":4.2},{"x":-2.04,"y":3.76},{"x":-1.08,"y":3.6},{"x":-1.05,"y":2.84},{"x":-1.08,"y":2.7},{"x":-1.52,"y":2.66},{"x":-1.91,"y":2.72},{"x":-2.78,"y":2.56},{"x":-3.37,"y":2.82},{"x":-3.48,"y":2.6},{"x":-3.73,"y":2.94},{"x":-3.89,"y":3.12},{"x":-4.35,"y":3.25},{"x":-4.2,"y":2.3},{"x":-4.2,"y":1.84},{"x":-4.2,"y":1.6},{"x":-3.73,"y":1.92},{"x":-3.6,"y":1.6},{"x":-3.5,"y":2.2},{"x":-3.3,"y":2.4},{"x":-2.9,"y":2.5},{"x":6.73,"y":3.04},{"x":3.27,"y":2.28},{"x":3.82,"y":2.22},{"x":3.93,"y":2.1},{"x":4.57,"y":2.18},{"x":4.72,"y":2.18},{"x":3.98,"y":1.8},{"x":3.89,"y":1.49},{"x":2.91,"y":1.9},{"x":2.47,"y":1.98},{"x":1.68,"y":1.94},{"x":0.3,"y":1.7},{"x":2.91,"y":1.7},{"x":3.3,"y":1.75},{"x":3.6,"y":1.6},{"x":-0.2,"y":1.6},{"x":-0.5,"y":1.7}],
"n2s": [{"x":-3.02,"y":4.8,"x2":-2.7,"y2":4.72},{"x":-2.81,"y":4.19,"x2":-1.86,"y2":4.02},{"x":-4.31,"y":3.9,"x2":-3.81,"y2":3.62},{"x":6.22,"y":3.1,"x2":6.54,"y2":3.04},{"x":2.75,"y":2.46,"x2":3.14,"y2":2.3},{"x":3.98,"y":2.14,"x2":4.33,"y2":1.98},{"x":1.29,"y":0.78,"x2":1.09,"y2":0.4}],
"n2t": [{"x":-1.48,"y":4.64,"t":"KLK3"},{"x":-0.57,"y":3.96,"t":"MTA2"},{"x":-3.38,"y":3.34,"t":"PCBP2"},{"x":4.68,"y":3.14,"t":"DUSP1"},{"x":1.72,"y":2.74,"t":"C6orf62"},{"x":5.04,"y":1.7,"t":"SBDS"},{"x":2.53,"y":0.86,"t":"CD96"},{"x":0.66,"y":0.16,"t":"KLRD1"}],
"n2a": [{"x":-6.21,"y":-0.25,"x2":7.35,"y2":-0.25},{"x":-6.21,"y":-0.25,"x2":-6.21,"y2":5.03}],
"n2k": [{"x":-6,"y":-0.25,"x2":-6,"y2":-0.42},{"x":-3,"y":-0.25,"x2":-3,"y2":-0.42},{"x":0,"y":-0.25,"x2":0,"y2":-0.42},{"x":3,"y":-0.25,"x2":3,"y2":-0.42},{"x":6,"y":-0.25,"x2":6,"y2":-0.42},{"x":-6.21,"y":0,"x2":-6.54,"y2":0},{"x":-6.21,"y":1,"x2":-6.54,"y2":1},{"x":-6.21,"y":2,"x2":-6.54,"y2":2},{"x":-6.21,"y":3,"x2":-6.54,"y2":3},{"x":-6.21,"y":4,"x2":-6.54,"y2":4},{"x":-6.21,"y":5,"x2":-6.54,"y2":5}]
},
"spacing": 38,
"vconcat": [
 {"spacing": 31, "hconcat": [
  {"width": 287, "height": 220, "title": {"text": "CD8 E1", "offset": -8},
   "encoding": {"x": {"field": "x", "type": "quantitative", "title": "Mean Log2 FC", "scale": {"domain": [-5.77, 6.5], "nice": false, "zero": false}, "axis": {"values": [-3, 0, 3, 6]}},
                "y": {"field": "y", "type": "quantitative", "title": "−Log10(p−value)", "scale": {"domain": [-0.48, 11.16], "nice": false, "zero": false}, "axis": {"values": [0, 3, 6, 9], "titleX": -57}}},
   "layer": [
    {"data": {"name": "e1a"}, "mark": {"type": "rule", "color": "#000000", "strokeWidth": 2, "strokeCap": "square"}, "encoding": {"x2": {"field": "x2"}, "y2": {"field": "y2"}}},
    {"data": {"name": "e1k"}, "mark": {"type": "rule", "color": "#333333", "strokeWidth": 1.3}, "encoding": {"x2": {"field": "x2"}, "y2": {"field": "y2"}}},
    {"data": {"name": "e1g"}, "mark": {"type": "circle", "color": "#BEBEBE", "size": 62, "opacity": 1}},
    {"data": {"name": "e1o"}, "mark": {"type": "circle", "color": "#BEBEBE", "size": 36, "opacity": 1}},
    {"data": {"name": "e1h"}, "mark": {"type": "circle", "size": 70, "opacity": 1}, "encoding": {"color": {"field": "g", "type": "nominal", "scale": {"domain": ["down", "up"], "range": ["#00008B", "#CD4A12"]}, "legend": null}}},
    {"data": {"name": "e1s"}, "mark": {"type": "rule", "color": "#000000", "strokeWidth": 1}, "encoding": {"x2": {"field": "x2"}, "y2": {"field": "y2"}}},
    {"data": {"name": "e1t"}, "mark": {"type": "text", "font": "Liberation Sans", "fontSize": 15, "color": "#000000"}, "encoding": {"text": {"field": "t"}}},
    {"data": {"values": [{"x": 0.5, "y": 11.02, "x2": 4.4, "y2": 11.02}]}, "mark": {"type": "rule", "color": "#000000", "strokeWidth": 1.6}, "encoding": {"x2": {"field": "x2"}, "y2": {"field": "y2"}}},
    {"data": {"values": [{"x": 4.47, "y": 11.02}]}, "mark": {"type": "point", "shape": "triangle-right", "size": 120, "filled": true, "color": "#000000", "opacity": 1}},
    {"data": {"values": [{"x": 2.64, "y": 11.99, "t": "Relapse UP"}]}, "mark": {"type": "text", "font": "Liberation Sans", "fontSize": 17, "color": "#000000"}, "encoding": {"text": {"field": "t"}}}
   ]},
  {"width": 283, "height": 220, "title": {"text": "CD8 E2", "offset": 16},
   "encoding": {"x": {"field": "x", "type": "quantitative", "title": "Mean Log2 FC", "scale": {"domain": [-5.26, 5.38], "nice": false, "zero": false}, "axis": {"values": [-5, -2.5, 0, 2.5, 5], "format": ".1f"}},
                "y": {"field": "y", "type": "quantitative", "title": "−Log10(p−value)", "scale": {"domain": [-0.31, 7.23], "nice": false, "zero": false}, "axis": {"values": [0, 2, 4, 6], "titleX": -85}}},
   "layer": [
    {"data": {"name": "e2a"}, "mark": {"type": "rule", "color": "#000000", "strokeWidth": 2, "strokeCap": "square"}, "encoding": {"x2": {"field": "x2"}, "y2": {"field": "y2"}}},
    {"data": {"name": "e2k"}, "mark": {"type": "rule", "color": "#333333", "strokeWidth": 1.3}, "encoding": {"x2": {"field": "x2"}, "y2": {"field": "y2"}}},
    {"data": {"name": "e2g"}, "mark": {"type": "circle", "color": "#BEBEBE", "size": 62, "opacity": 1}},
    {"data": {"name": "e2o"}, "mark": {"type": "circle", "color": "#BEBEBE", "size": 36, "opacity": 1}},
    {"data": {"name": "e2h"}, "mark": {"type": "circle", "size": 70, "opacity": 1}, "encoding": {"color": {"field": "g", "type": "nominal", "scale": {"domain": ["down", "up"], "range": ["#00008B", "#CD4A12"]}, "legend": null}}},
    {"data": {"name": "e2s"}, "mark": {"type": "rule", "color": "#000000", "strokeWidth": 1}, "encoding": {"x2": {"field": "x2"}, "y2": {"field": "y2"}}},
    {"data": {"name": "e2t"}, "mark": {"type": "text", "font": "Liberation Sans", "fontSize": 15, "color": "#000000"}, "encoding": {"text": {"field": "t"}}}
   ]}
 ]},
 {"spacing": 31, "hconcat": [
  {"width": 286, "height": 220, "title": {"text": "CD8 E3", "offset": 14},
   "encoding": {"x": {"field": "x", "type": "quantitative", "title": "Mean Log2 FC", "scale": {"domain": [-11.66, 8.67], "nice": false, "zero": false}, "axis": {"values": [-10, -5, 0, 5]}},
                "y": {"field": "y", "type": "quantitative", "title": "−Log10(p−value)", "scale": {"domain": [-0.68, 15.96], "nice": false, "zero": false}, "axis": {"values": [0, 5, 10, 15], "titleX": -58}}},
   "layer": [
    {"data": {"name": "e3a"}, "mark": {"type": "rule", "color": "#000000", "strokeWidth": 2, "strokeCap": "square"}, "encoding": {"x2": {"field": "x2"}, "y2": {"field": "y2"}}},
    {"data": {"name": "e3k"}, "mark": {"type": "rule", "color": "#333333", "strokeWidth": 1.3}, "encoding": {"x2": {"field": "x2"}, "y2": {"field": "y2"}}},
    {"data": {"name": "e3g"}, "mark": {"type": "circle", "color": "#BEBEBE", "size": 62, "opacity": 1}},
    {"data": {"name": "e3o"}, "mark": {"type": "circle", "color": "#BEBEBE", "size": 36, "opacity": 1}},
    {"data": {"name": "e3h"}, "mark": {"type": "circle", "size": 70, "opacity": 1}, "encoding": {"color": {"field": "g", "type": "nominal", "scale": {"domain": ["down", "up"], "range": ["#00008B", "#CD4A12"]}, "legend": null}}},
    {"data": {"name": "e3s"}, "mark": {"type": "rule", "color": "#000000", "strokeWidth": 1}, "encoding": {"x2": {"field": "x2"}, "y2": {"field": "y2"}}},
    {"data": {"name": "e3t"}, "mark": {"type": "text", "font": "Liberation Sans", "fontSize": 15, "color": "#000000"}, "encoding": {"text": {"field": "t"}}}
   ]},
  {"width": 284, "height": 220, "title": {"text": "CD8 N1", "offset": 14},
   "encoding": {"x": {"field": "x", "type": "quantitative", "title": "Mean Log2 FC", "scale": {"domain": [-7.01, 7.63], "nice": false, "zero": false}, "axis": {"values": [-4, 0, 4]}},
                "y": {"field": "y", "type": "quantitative", "title": "−Log10(p−value)", "scale": {"domain": [-0.46, 10.86], "nice": false, "zero": false}, "axis": {"values": [0, 2.5, 5, 7.5, 10], "format": ".1f", "titleX": -86}}},
   "layer": [
    {"data": {"name": "n1a"}, "mark": {"type": "rule", "color": "#000000", "strokeWidth": 2, "strokeCap": "square"}, "encoding": {"x2": {"field": "x2"}, "y2": {"field": "y2"}}},
    {"data": {"name": "n1k"}, "mark": {"type": "rule", "color": "#333333", "strokeWidth": 1.3}, "encoding": {"x2": {"field": "x2"}, "y2": {"field": "y2"}}},
    {"data": {"name": "n1g"}, "mark": {"type": "circle", "color": "#BEBEBE", "size": 62, "opacity": 1}},
    {"data": {"name": "n1o"}, "mark": {"type": "circle", "color": "#BEBEBE", "size": 36, "opacity": 1}},
    {"data": {"name": "n1h"}, "mark": {"type": "circle", "size": 70, "opacity": 1}, "encoding": {"color": {"field": "g", "type": "nominal", "scale": {"domain": ["down", "up"], "range": ["#00008B", "#CD4A12"]}, "legend": null}}},
    {"data": {"name": "n1s"}, "mark": {"type": "rule", "color": "#000000", "strokeWidth": 1}, "encoding": {"x2": {"field": "x2"}, "y2": {"field": "y2"}}},
    {"data": {"name": "n1t"}, "mark": {"type": "text", "font": "Liberation Sans", "fontSize": 15, "color": "#000000"}, "encoding": {"text": {"field": "t"}}}
   ]}
 ]},
 {"width": 286, "height": 220, "title": {"text": "CD8 N2", "offset": 3},
  "encoding": {"x": {"field": "x", "type": "quantitative", "title": "Mean Log2 FC", "scale": {"domain": [-6.21, 7.35], "nice": false, "zero": false}, "axis": {"values": [-6, -3, 0, 3, 6]}},
               "y": {"field": "y", "type": "quantitative", "title": "−Log10(p−value)", "scale": {"domain": [-0.25, 5.03], "nice": false, "zero": false}, "axis": {"values": [0, 1, 2, 3, 4, 5], "titleX": -58}}},
  "layer": [
   {"data": {"name": "n2a"}, "mark": {"type": "rule", "color": "#000000", "strokeWidth": 2, "strokeCap": "square"}, "encoding": {"x2": {"field": "x2"}, "y2": {"field": "y2"}}},
   {"data": {"name": "n2k"}, "mark": {"type": "rule", "color": "#333333", "strokeWidth": 1.3}, "encoding": {"x2": {"field": "x2"}, "y2": {"field": "y2"}}},
   {"data": {"name": "n2g"}, "mark": {"type": "circle", "color": "#BEBEBE", "size": 62, "opacity": 1}},
   {"data": {"name": "n2o"}, "mark": {"type": "circle", "color": "#BEBEBE", "size": 36, "opacity": 1}},
   {"data": {"name": "n2s"}, "mark": {"type": "rule", "color": "#000000", "strokeWidth": 1}, "encoding": {"x2": {"field": "x2"}, "y2": {"field": "y2"}}},
   {"data": {"name": "n2t"}, "mark": {"type": "text", "font": "Liberation Sans", "fontSize": 15, "color": "#000000"}, "encoding": {"text": {"field": "t"}}}
  ]}
]
}
